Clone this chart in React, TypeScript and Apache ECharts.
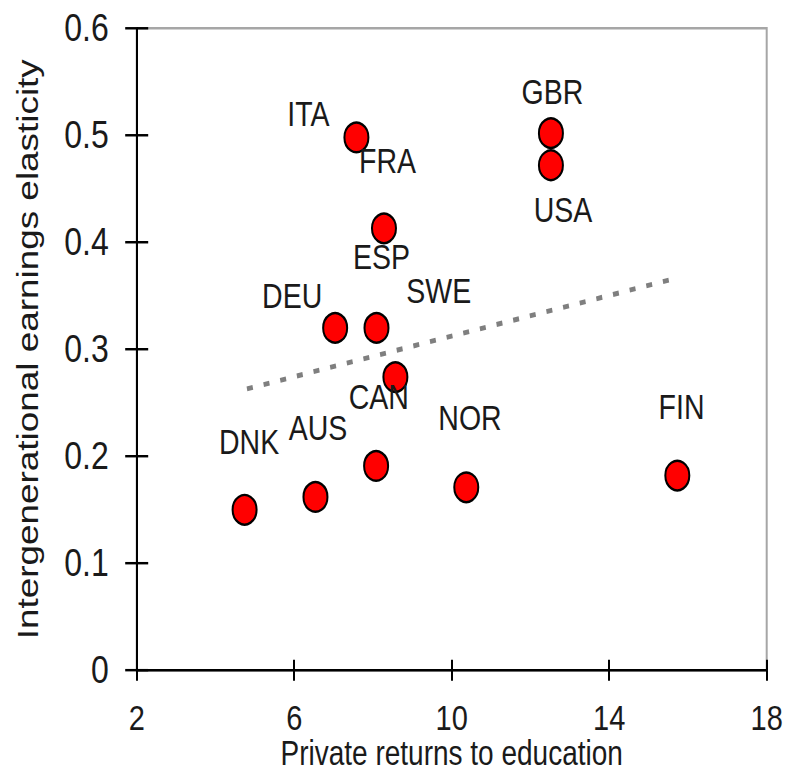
import React, { useEffect, useRef } from "react";
import * as echarts from "echarts";

// Data
const countries = ["DNK", "AUS", "CAN", "NOR", "FIN", "SWE", "DEU", "ESP", "FRA", "USA", "ITA", "GBR"];
const privateReturns = [4.74, 6.54, 8.08, 10.37, 15.73, 8.57, 7.04, 8.09, 8.28, 12.52, 7.58, 12.52];
const earningsElasticity = [0.15, 0.162, 0.191, 0.171, 0.182, 0.274, 0.32, 0.32, 0.413, 0.472, 0.498, 0.502];

// Dotted trend line (end points)
const trendX = [4.8, 15.55];
const trendY = [0.263, 0.365];

// Axis ticks
const xTicks = [2, 6, 10, 14, 18];
const yTicks = [0, 0.1, 0.2, 0.3, 0.4, 0.5, 0.6];

// Label placement relative to each marker (px)
const labelOffsets: Record<string, [number, number]> = {
  DNK: [4.5, -55.5],
  AUS: [2.5, -55.9],
  CAN: [2.7, -56.1],
  NOR: [3.7, -56.1],
  FIN: [4.2, -55.9],
  SWE: [43.4, -70],
  DEU: [-43, -26],
  ESP: [5, -58.1],
  FRA: [3.5, -54.9],
  USA: [12, 36.6],
  ITA: [-48, -19.5],
  GBR: [1.5, -33.3],
};

const FONT = "'Liberation Sans', Arial, Helvetica, sans-serif";
const TEXT = "#1a1a1a";
const STRETCH = 771 / 627;

export default function App() {
  const ref = useRef<HTMLDivElement>(null);

  useEffect(() => {
    if (!ref.current) return;
    const chart = echarts.init(ref.current, null, { renderer: "svg" });

    const points = countries.map((c, i) => ({
      name: c,
      value: [privateReturns[i], earningsElasticity[i]],
    }));

    const baseX = {
      type: "value" as const,
      min: xTicks[0],
      max: xTicks[xTicks.length - 1],
      position: "bottom" as const,
      splitLine: { show: false },
    };
    const baseY = {
      type: "value" as const,
      min: yTicks[0],
      max: yTicks[yTicks.length - 1],
      interval: 0.1,
      position: "left" as const,
      splitLine: { show: false },
    };

    chart.setOption({
      animation: false,
      backgroundColor: "#ffffff",
      grid: {
        left: 136.7,
        right: 19.3,
        top: 23,
        bottom: 81.9,
        containLabel: false,
        outerBoundsMode: "none",
        show: true,
        borderColor: "#a6a6a6",
        borderWidth: 2,
        backgroundColor: "transparent",
      },
      xAxis: [
        {
          ...baseX,
          name: "Private returns to education",
          nameLocation: "middle",
          nameGap: 55.5,
          nameMoveOverlap: false,
          nameTextStyle: { fontFamily: FONT, fontSize: 28, lineHeight: 24, color: TEXT },
          axisLine: { show: true, onZero: false, lineStyle: { color: "#000", width: 2 } },
          axisTick: {
            show: true,
            inside: false,
            length: 8.5,
            customValues: xTicks,
            lineStyle: { color: "#000", width: 2 },
          },
          axisLabel: {
            show: true,
            customValues: xTicks,
            margin: 26.5,
            fontFamily: FONT,
            fontSize: 29,
            lineHeight: 24,
            color: TEXT,
          },
        },
        {
          ...baseX,
          axisLine: { show: false },
          axisTick: {
            show: true,
            inside: true,
            length: 8.5,
            customValues: xTicks,
            lineStyle: { color: "#000", width: 2 },
          },
          axisLabel: { show: false },
        },
      ],
      yAxis: [
        {
          ...baseY,
          name: "Intergenerational earnings elasticity",
          nameLocation: "middle",
          nameGap: 94,
          nameRotate: 90,
          nameMoveOverlap: false,
          nameTextStyle: { fontFamily: FONT, fontSize: 30, color: TEXT },
          axisLine: { show: true, onZero: false, lineStyle: { color: "#000", width: 2 } },
          axisTick: { show: true, inside: false, length: 11.5, lineStyle: { color: "#000", width: 2 } },
          axisLabel: { show: true, margin: 28, fontFamily: FONT, fontSize: 32, color: TEXT },
        },
        {
          ...baseY,
          axisLine: { show: false },
          axisTick: { show: true, inside: true, length: 11.5, lineStyle: { color: "#000", width: 2 } },
          axisLabel: { show: false },
        },
      ],
      series: [
        {
          type: "line",
          xAxisIndex: 0,
          yAxisIndex: 0,
          data: trendX.map((x, i) => [x, trendY[i]]),
          symbol: "none",
          silent: true,
          z: 1,
          lineStyle: { color: "#7f7f7f", width: 4, type: [6, 11], cap: "butt" },
        },
        {
          type: "scatter",
          xAxisIndex: 0,
          yAxisIndex: 0,
          z: 3,
          symbol: "circle",
          symbolSize: 24,
          itemStyle: { color: "#ff0000", borderColor: "#000000", borderWidth: 2, opacity: 1 },
          label: {
            show: true,
            position: "inside",
            formatter: "{b}",
            fontFamily: FONT,
            fontSize: 28.5,
            color: TEXT,
          },
          labelLayout: (params: any) => {
            const off = labelOffsets[countries[params.dataIndex]] || [0, 0];
            return { dx: off[0], dy: off[1], hideOverlap: false };
          },
          data: points,
        },
      ],
    });

    return () => chart.dispose();
  }, []);

  return (
    <div
      ref={ref}
      style={{
        position: "absolute",
        left: 0,
        top: 0,
        width: 786,
        height: 627,
        transform: `scaleY(${STRETCH})`,
        transformOrigin: "0 0",
        background: "#fff",
      }}
    />
  );
}
